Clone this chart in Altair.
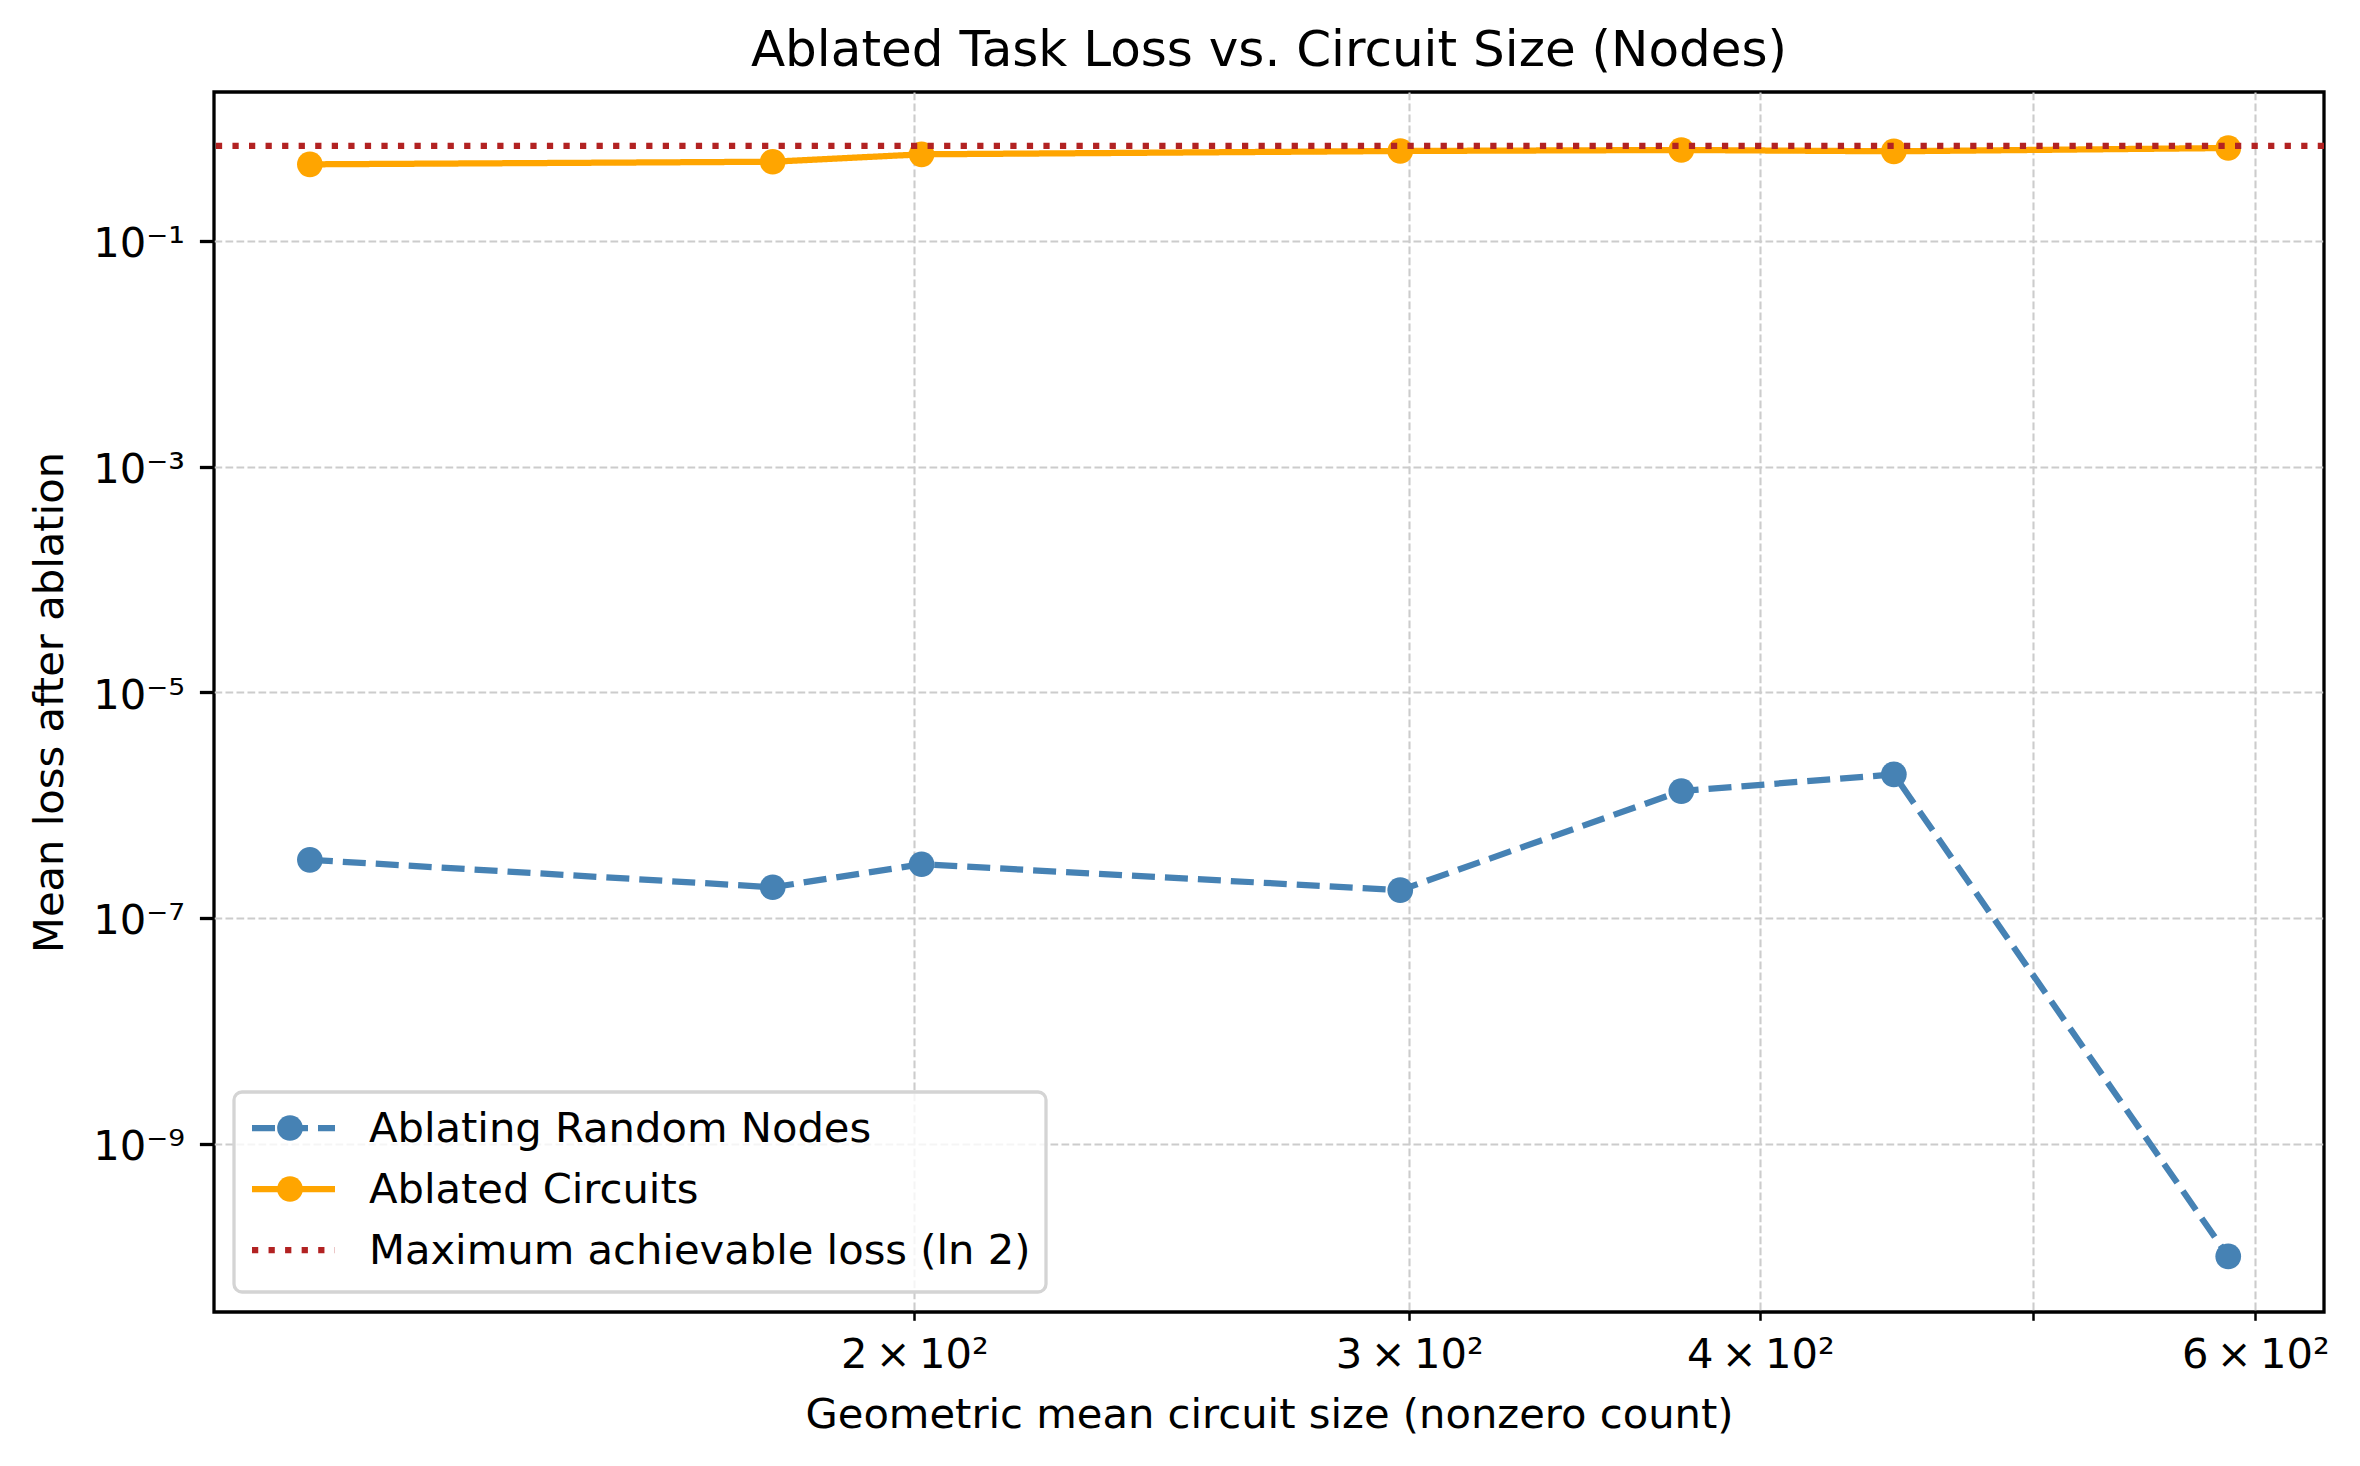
import json
import math
import altair as alt
import pandas as pd

# ---- data ----
sizes = [121.9, 178.1, 201.2, 297.8, 374.9, 446.2, 586.8]
random_loss = [3.27e-7, 1.87e-7, 2.99e-7, 1.76e-7, 1.33e-6, 1.87e-6, 1.0e-10]
circuit_loss = [0.476, 0.502, 0.584, 0.625, 0.638, 0.621, 0.664]
max_loss = math.log(2)

series_names = ["Ablating Random Nodes", "Ablated Circuits", "Maximum achievable loss (ln 2)"]
series_colors = ["#4682b4", "#ffa500", "#b22222"]
series_dashes = [[23, 10], [1, 0], [6.25, 10.3]]

x_ticks = [200, 300, 400, 500, 600]
x_tick_labels = ["2\u2009×\u200910²", "3\u2009×\u200910²", "4\u2009×\u200910²", "", "6\u2009×\u200910²"]
y_ticks = [1e-1, 1e-3, 1e-5, 1e-7, 1e-9]
y_tick_labels = ["10⁻¹", "10⁻³", "10⁻⁵", "10⁻⁷", "10⁻⁹"]

x_domain = [10 ** 2.0519, 10 ** 2.80256]
y_domain = [10 ** -10.4922, 10 ** 0.3186]

FONT = "DejaVu Sans"
FS = 41.67
W, H = 2110, 1220
LW = 6.25

df = pd.DataFrame({
    "size": sizes + sizes,
    "loss": random_loss + circuit_loss,
    "series": [series_names[0]] * len(sizes) + [series_names[1]] * len(sizes),
})
rule_df = pd.DataFrame({"loss": [max_loss], "series": [series_names[2]]})

xscale = alt.Scale(type="log", domain=x_domain, nice=False, zero=False)
yscale = alt.Scale(type="log", domain=y_domain, nice=False, zero=False)
cscale = alt.Scale(domain=series_names, range=series_colors)
dscale = alt.Scale(domain=series_names, range=series_dashes)

grid_kw = dict(grid=True, gridColor="#cccccc", gridDash=[7.7, 3.3], gridWidth=2.1,
               domain=False, tickColor="black",
               labelFont=FONT, labelFontSize=FS, labelColor="black",
               titleFont=FONT, titleFontSize=FS, titleFontWeight="normal", titleColor="black",
               labelOverlap=False, labelFlush=False)

x_axis = alt.Axis(
    values=x_ticks,
    labelExpr=json.dumps(x_tick_labels, ensure_ascii=False) + "[indexof(" + json.dumps(x_ticks) + ", datum.value)]",
    tickSize=8.3, tickWidth=2.5, labelPadding=47, labelBaseline="alphabetic",
    titleX=W / 2, titleY=115, titleBaseline="alphabetic", titleAlign="center",
    **grid_kw,
)
y_axis = alt.Axis(
    values=y_ticks,
    labelExpr=json.dumps(y_tick_labels, ensure_ascii=False) + "[indexof(" + json.dumps(y_ticks) + ", datum.value)]",
    tickSize=14.6, tickWidth=3.3, labelPadding=15, labelBaseline="alphabetic", labelOffset=16,
    titleX=-152, titleY=H / 2, titleBaseline="alphabetic", titleAlign="center", titleAngle=270,
    **grid_kw,
)

X = alt.X("size:Q", scale=xscale, axis=x_axis, title="Geometric mean circuit size (nonzero count)")
Y = alt.Y("loss:Q", scale=yscale, axis=y_axis, title="Mean loss after ablation")
C = alt.Color("series:N", scale=cscale, legend=None)
D = alt.StrokeDash("series:N", scale=dscale, legend=None)

lines = alt.Chart(df).mark_line(strokeWidth=LW).encode(x=X, y=Y, color=C, strokeDash=D)
points = alt.Chart(df).mark_circle(size=660, opacity=1).encode(x=X, y=Y, color=C)
rule = alt.Chart(rule_df).mark_rule(strokeWidth=LW).encode(
    y=alt.Y("loss:Q", scale=yscale), color=C, strokeDash=D)

# ---- legend (drawn as marks, driven by the series lists) ----
box = alt.Chart(pd.DataFrame({"k": [0]})).mark_rect(
    fill="white", fillOpacity=0.8, stroke="#d4d4d4", strokeWidth=3.3, cornerRadius=8
).encode(x=alt.value(20), x2=alt.value(832), y=alt.value(1000), y2=alt.value(1200))

legend_layers = [box]
entry_y = [1036, 1097, 1158]
for i, name in enumerate(series_names):
    edf = pd.DataFrame({"series": [name]})
    legend_layers.append(alt.Chart(edf).mark_rule(strokeWidth=LW).encode(
        x=alt.value(38), x2=alt.value(121), y=alt.value(entry_y[i]), color=C, strokeDash=D))
    if i < 2:
        legend_layers.append(alt.Chart(edf).mark_circle(size=660, opacity=1).encode(
            x=alt.value(76), y=alt.value(entry_y[i]), color=C))
    legend_layers.append(alt.Chart(edf).mark_text(
        align="left", baseline="alphabetic", font=FONT, fontSize=FS, color="black", dy=14
    ).encode(x=alt.value(155), y=alt.value(entry_y[i]), text="series:N"))

chart = alt.layer(lines, points, rule, *legend_layers).properties(
    width=W, height=H,
    title=alt.TitleParams("Ablated Task Loss vs. Circuit Size (Nodes)", font=FONT, fontSize=50,
                          fontWeight="normal", color="black", anchor="middle",
                          baseline="alphabetic", offset=-24),
    autosize=alt.AutoSizeParams(type="none"),
    padding={"left": 206, "top": 84, "right": 20, "bottom": 130},
).configure_view(stroke="black", strokeWidth=3.3)

chart.save("out.html", embed_options={"renderer": "svg", "actions": False})
